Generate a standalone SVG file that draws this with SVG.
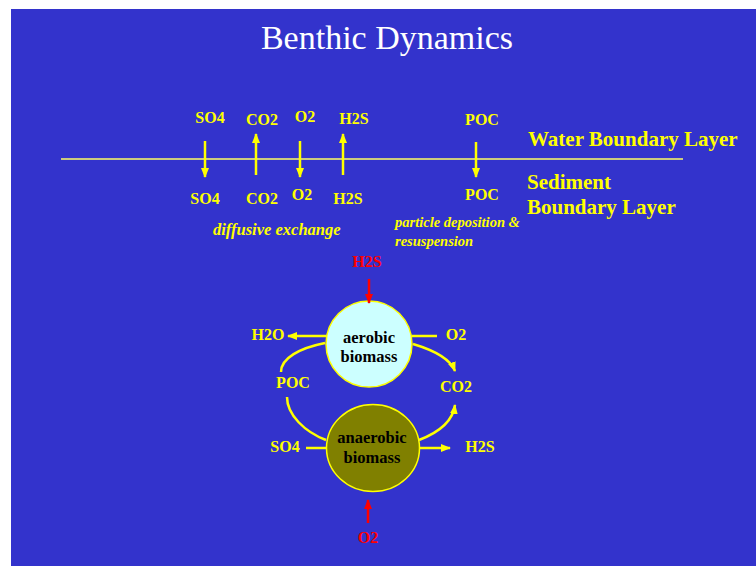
<svg xmlns="http://www.w3.org/2000/svg" width="756" height="566" viewBox="0 0 756 566">
<defs>
<marker id="ay" viewBox="0 0 10 10" refX="9" refY="5" markerWidth="4" markerHeight="4" orient="auto" markerUnits="strokeWidth"><path d="M0,1 L10,5 L0,9 z" fill="#FFFF00"/></marker>
<marker id="ar" viewBox="0 0 10 10" refX="9" refY="5" markerWidth="4" markerHeight="4" orient="auto" markerUnits="strokeWidth"><path d="M0,1 L10,5 L0,9 z" fill="#FF0000"/></marker>
</defs>
<style>
text{font-family:"Liberation Serif","Times New Roman",serif;font-weight:bold;}
.lab{fill:#FFFF00;font-size:16px;text-anchor:middle;}
.big{fill:#FFFF00;font-size:21px;}
.it{fill:#FFFF00;font-size:14.5px;font-style:italic;}
.red{fill:#FF0000;font-size:16px;text-anchor:middle;}
.blk{fill:#000000;font-size:16.5px;text-anchor:middle;}
.y{stroke:#FFFF00;stroke-width:2.5;fill:none;}
.r{stroke:#FF0000;stroke-width:2.5;fill:none;}
</style>
<rect x="11" y="9" width="745" height="557" fill="#3333CC"/>
<text x="387" y="49" font-size="34" fill="#FFFFFF" text-anchor="middle" style="font-weight:normal">Benthic Dynamics</text>
<line x1="61" y1="159" x2="683" y2="159" stroke="#FFFF66" stroke-width="1.3"/>
<g id="labels">
<text class="lab" x="210" y="123">SO4</text>
<text class="lab" x="262" y="125">CO2</text>
<text class="lab" x="305" y="122">O2</text>
<text class="lab" x="354" y="124">H2S</text>
<text class="lab" x="482" y="125">POC</text>
<text class="lab" x="205" y="204">SO4</text>
<text class="lab" x="262" y="204">CO2</text>
<text class="lab" x="302" y="200">O2</text>
<text class="lab" x="348" y="204">H2S</text>
<text class="lab" x="482" y="200">POC</text>
<text class="big" x="528" y="146">Water Boundary Layer</text>
<text class="big" x="527" y="189">Sediment</text>
<text class="big" x="527" y="214">Boundary Layer</text>
<text class="it" x="395" y="227">particle deposition &amp;</text>
<text class="it" x="395" y="246">resuspension</text>
<text class="it" x="213" y="235" style="font-size:16.5px">diffusive exchange</text>
</g>
<g id="aerobic">
<circle cx="369" cy="344" r="43" fill="#CCFFFF" stroke="#FFFF00" stroke-width="1.5"/>
<text class="blk" x="369" y="343">aerobic</text>
<text class="blk" x="369" y="362">biomass</text>
</g>
<g id="anaerobic">
<ellipse cx="373" cy="448" rx="46.5" ry="43.5" fill="#808000" stroke="#FFFF00" stroke-width="1.5"/>
<text class="blk" x="372" y="443">anaerobic</text>
<text class="blk" x="372" y="463">biomass</text>
</g>
<g id="species">
<text class="red" x="367" y="267">H2S</text>
<text class="lab" x="268" y="340">H2O</text>
<text class="lab" x="456" y="340">O2</text>
<text class="lab" x="293" y="388">POC</text>
<text class="lab" x="456" y="392">CO2</text>
<text class="lab" x="285" y="452">SO4</text>
<text class="lab" x="480" y="452">H2S</text>
<text class="red" x="368" y="543">O2</text>
</g>
<g id="connectors">
<line class="y" x1="205" y1="141" x2="205" y2="177" marker-end="url(#ay)"/>
<line class="y" x1="256" y1="175" x2="256" y2="134" marker-end="url(#ay)"/>
<line class="y" x1="300" y1="141" x2="300" y2="177" marker-end="url(#ay)"/>
<line class="y" x1="343" y1="175" x2="343" y2="134" marker-end="url(#ay)"/>
<line class="y" x1="476" y1="142" x2="476" y2="177" marker-end="url(#ay)"/>
<line class="r" x1="369" y1="279" x2="369" y2="303" marker-end="url(#ar)"/>
<line class="y" x1="326" y1="336" x2="288" y2="336" marker-end="url(#ay)"/>
<line class="y" x1="412" y1="336" x2="437" y2="336"/>
<path class="y" d="M325 343 C300 348 281 358 281 372"/>
<path class="y" d="M413 344 C433 350 450 358 455 371" marker-end="url(#ay)"/>
<path class="y" d="M287 397 C287 415 305 432 326 440"/>
<path class="y" d="M419 440 C440 432 453 420 455 405" marker-end="url(#ay)"/>
<line class="y" x1="306" y1="448" x2="327" y2="448"/>
<line class="y" x1="420" y1="448" x2="450" y2="448" marker-end="url(#ay)"/>
<line class="r" x1="368" y1="523" x2="368" y2="500" marker-end="url(#ar)"/>
</g>
</svg>
